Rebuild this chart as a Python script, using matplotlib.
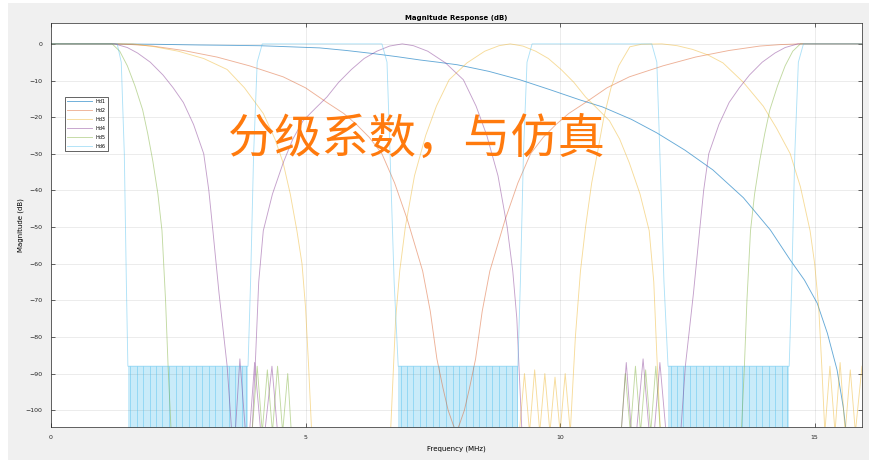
import numpy as np
import matplotlib.pyplot as plt
from matplotlib.patches import Rectangle

plt.rcParams['font.family'] = ['DejaVu Sans']

nan = np.nan

# magnitude responses, frequency in MHz / magnitude in dB
hd1_f = [0, 1.16, 2.0, 2.9, 3.5, 4.1, 4.7, 5.28, 5.8, 6.3, 6.8, 7.25, 7.6, 7.98, 8.6, 9.21,
         9.8, 10.39, 10.83, 11.4, 11.9, 12.45, 13.0, 13.6, 14.13, 14.52, 14.8, 15.05, 15.25,
         15.44, 15.56, 15.62]
hd1_db = [0, 0, -0.1, -0.3, -0.4, -0.5, -0.8, -1.1, -1.8, -2.6, -3.5, -4.4, -5.0, -5.7, -7.5, -9.8,
          -12.5, -15.3, -17.2, -20.6, -24.3, -29, -34.4, -42, -50.8, -59, -64.5, -70.8, -79,
          -89, -99, -106]

hd2_f = [0, 1.2, 1.6, 2.0, 2.6, 3.26, 3.9, 4.56, 5.0, 5.42, 5.75, 6.0, 6.25, 6.5, 6.75, 7.0,
         7.15, 7.3, 7.45, 7.58, 7.7, 7.8, 7.9, 7.96,
         8.02, 8.12, 8.22, 8.34, 8.47, 8.62, 8.77, 8.92, 9.17, 9.42, 9.67, 9.92, 10.17, 10.5,
         10.92, 11.36, 12.02, 12.66, 13.32, 13.92, 14.32, 14.72, 15.93]
hd2_db = [0, 0, -0.2, -0.6, -1.8, -3.6, -6, -9, -12, -16, -19, -22, -25.5, -30, -38, -48,
          -55, -62, -73, -86, -94, -100, -104, -106,
          -104, -100, -94, -86, -73, -62, -55, -48, -38, -30, -25.5, -22, -19, -16,
          -12, -9, -6, -3.6, -1.8, -0.6, -0.2, 0, 0]

hd3_f = [0, 1.6, 2.0, 2.5, 3.0, 3.46, 3.8, 4.17, 4.4, 4.56, 4.7, 4.83, 4.93, 5.0, 5.06, 5.12, nan,
         6.67, 6.77, 6.85, 6.96, 7.14, 7.36, 7.57, 7.82, 8.17, 8.52, 8.8, 9.02, 9.27, 9.52, 9.77,
         10.02, 10.27, 10.5, 10.72, 10.97, 11.17, 11.36, 11.57, 11.75, 11.84, 11.9, 11.97, nan,
         9.2, 9.3, 9.4, 9.5, 9.6, 9.7, 9.8, 9.9, 10.0, 10.1, 10.2, 10.3, 10.4, 10.5, 10.62, 10.73,
         10.86, 11.0, 11.15, 11.37, 11.6, 12.0, 12.3, 12.6, 12.9, 13.2, 13.6, 13.99, 14.25, 14.52,
         14.72, 14.91, 15.0, 15.08, 15.14, 15.2, 15.3, 15.4, 15.5, 15.6, 15.7, 15.8, 15.93]
hd3_db = [0, 0, -0.7, -2, -4, -7, -12, -19, -26, -32.5, -41, -51, -60, -72, -88, -106, nan,
          -106, -75, -62, -50, -36, -25, -17, -9.8, -5.2, -2, -0.5, 0, -0.6, -2, -4,
          -7, -10.5, -14.5, -17.5, -21, -26, -32.5, -41, -51, -65, -85, -106, nan,
          -106, -90, -106, -89, -106, -90, -106, -91, -106, -90, -106, -80, -62, -50, -38, -30,
          -20, -12, -6, -0.8, -0.1, 0, -0.5, -1.5, -3, -5.2, -10.5, -17, -23, -30,
          -39, -51, -60, -72, -88, -106, -88, -106, -87, -106, -89, -106, -88]

hd4_f = [0, 1.25, 1.5, 1.7, 1.95, 2.2, 2.4, 2.6, 2.8, 3.0, 3.1, 3.18, 3.3, 3.38, 3.46, 3.55,
         3.62, 3.71, 3.82, 3.9, 4.0, 4.12, 4.2, 4.34, 4.45, nan,
         3.95, 4.02, 4.08, 4.17, 4.35, 4.56, 4.75, 4.95, 5.2, 5.42, 5.65, 5.9, 6.15, 6.4, 6.65,
         6.9, 7.12, 7.4, 7.75, 8.1, 8.35, 8.56, 8.78, 8.96, 9.07, 9.15, 9.25, nan,
         11.2, 11.3, 11.4, 11.5, 11.63, 11.75, 11.85, 11.96, 12.08, 12.37, 12.46, 12.54, 12.62,
         12.74, 12.82, 12.92, 13.12, 13.32, 13.52, 13.72, 13.97, 14.22, 14.42, 14.67, 15.93]
hd4_db = [0, 0, -1, -2.5, -5, -8.5, -12, -16, -22, -30, -40, -51, -68, -78, -88, -106,
          -106, -86, -106, -106, -87, -106, -106, -88, -106, nan,
          -106, -85, -65, -51, -41, -32.5, -26, -21, -17.5, -14.5, -10.5, -7, -4, -2, -0.6,
          0, -0.5, -2, -5.2, -9.8, -17, -25, -36, -50, -62, -75, -106, nan,
          -106, -87, -106, -106, -86, -106, -106, -87, -106, -106, -88, -78, -68,
          -51, -40, -30, -22, -16, -12, -8.5, -5, -2.5, -1, 0, 0]

hd5_f = [0, 1.2, 1.35, 1.5, 1.65, 1.8, 1.9, 2.0, 2.1, 2.18, 2.25, 2.3, 2.36, nan,
         3.95, 4.05, 4.15, 4.25, 4.35, 4.45, 4.55, 4.65, 4.72, nan,
         11.2, 11.28, 11.38, 11.48, 11.58, 11.68, 11.78, 11.88, 11.97, nan,
         13.56, 13.62, 13.67, 13.74, 13.82, 13.92, 14.02, 14.12, 14.27, 14.42, 14.57, 14.72, 15.93]
hd5_db = [0, 0, -2, -6, -11.5, -18, -24.5, -32, -41, -51, -70, -88, -106, nan,
          -106, -88, -106, -89, -106, -88, -106, -90, -106, nan,
          -106, -90, -106, -88, -106, -89, -106, -88, -106, nan,
          -106, -88, -70, -51, -41, -32, -24.5, -18, -11.5, -6, -2, 0, 0]

hd6_f = [0, 1.3, 1.38, 1.44, 1.48, 1.51, 3.87, 3.92, 3.98, 4.05, 4.15, 6.5, 6.6, 6.66, 6.74, 6.82,
         9.17, 9.22, 9.28, 9.35, 9.45, 11.8, 11.9, 11.96, 12.04, 12.12,
         14.5, 14.55, 14.61, 14.68, 14.78, 15.93]
hd6_db = [0, 0, -5, -30, -65, -88, -88, -65, -30, -5, 0, 0, -5, -30, -65, -88,
          -88, -65, -30, -5, 0, 0, -5, -30, -65, -88,
          -88, -65, -30, -5, 0, 0]

# Hd6 stopbands and the ripple nulls inside each of them
hd6_stop_lo = [1.51, 6.82, 12.12]
hd6_stop_hi = [3.87, 9.17, 14.5]
hd6_stop_level = -88
hd6_null_offsets = [0.05, 0.17, 0.3, 0.43, 0.55, 0.68, 0.81, 0.94, 1.07, 1.2, 1.33,
                    1.46, 1.59, 1.72, 1.85, 1.98, 2.11, 2.24, 2.33]

names = ['Hd1', 'Hd2', 'Hd3', 'Hd4', 'Hd5', 'Hd6']
colors = ['#0072BD', '#D95319', '#EDB120', '#7E2F8E', '#77AC30', '#4DBEEE']
alphas = [0.6, 0.45, 0.45, 0.45, 0.45, 0.45]
freqs = [hd1_f, hd2_f, hd3_f, hd4_f, hd5_f, hd6_f]
mags = [hd1_db, hd2_db, hd3_db, hd4_db, hd5_db, hd6_db]

fig = plt.figure(figsize=(8.69, 4.67), dpi=100, facecolor='white')
fig.patches.append(Rectangle((8 / 869, 7 / 467), 861 / 869, 457 / 467,
                             transform=fig.transFigure, facecolor='#f0f0f0',
                             edgecolor='none', zorder=-10))
ax = fig.add_axes([51 / 869, 40 / 467, 811 / 869, 404 / 467])
ax.set_facecolor('white')

for lo, hi in zip(hd6_stop_lo, hd6_stop_hi):
    ax.fill_between([lo, hi], -110, hd6_stop_level, color=colors[5], alpha=0.3, lw=0)
    ax.vlines([lo + d for d in hd6_null_offsets], -110, hd6_stop_level,
              color=colors[5], lw=0.6, alpha=0.5)

for f, m, c, a, n in zip(freqs, mags, colors, alphas, names):
    ax.plot(f, m, color=c, lw=0.65, alpha=a, label=n)

ax.set_xlim(0, 15.93)
ax.set_ylim(-104.6, 5.7)
ax.set_xticks([0, 5, 10, 15])
ax.set_yticks(np.arange(-100, 1, 10))
ax.grid(True, color='#262626', alpha=0.12, lw=0.5)
ax.tick_params(direction='in', length=3, width=0.5, labelsize=4.5, top=True, right=True,
               colors='#262626', pad=6)
for s in ax.spines.values():
    s.set_color('#262626')
    s.set_linewidth(0.5)

ax.set_title('Magnitude Response (dB)', fontsize=5, fontweight='bold', pad=2)
ax.set_xlabel('Frequency (MHz)', fontsize=5, labelpad=4)
ax.set_ylabel('Magnitude (dB)', fontsize=5, labelpad=1)

leg = ax.legend(loc='upper left', bbox_to_anchor=(0.017, 0.817), borderaxespad=0,
                fontsize=3.6, handlelength=5, labelspacing=0.8, fancybox=False,
                framealpha=1, edgecolor='#262626')
leg.get_frame().set_linewidth(0.5)

fig.text(417 / 869, 1 - 140 / 467, '分级系数，与仿真', fontsize=34, color='#FF7A0D',
         family=['Noto Sans CJK SC', 'DejaVu Sans'], ha='center', va='center')

fig.savefig('out.png', dpi=100)
